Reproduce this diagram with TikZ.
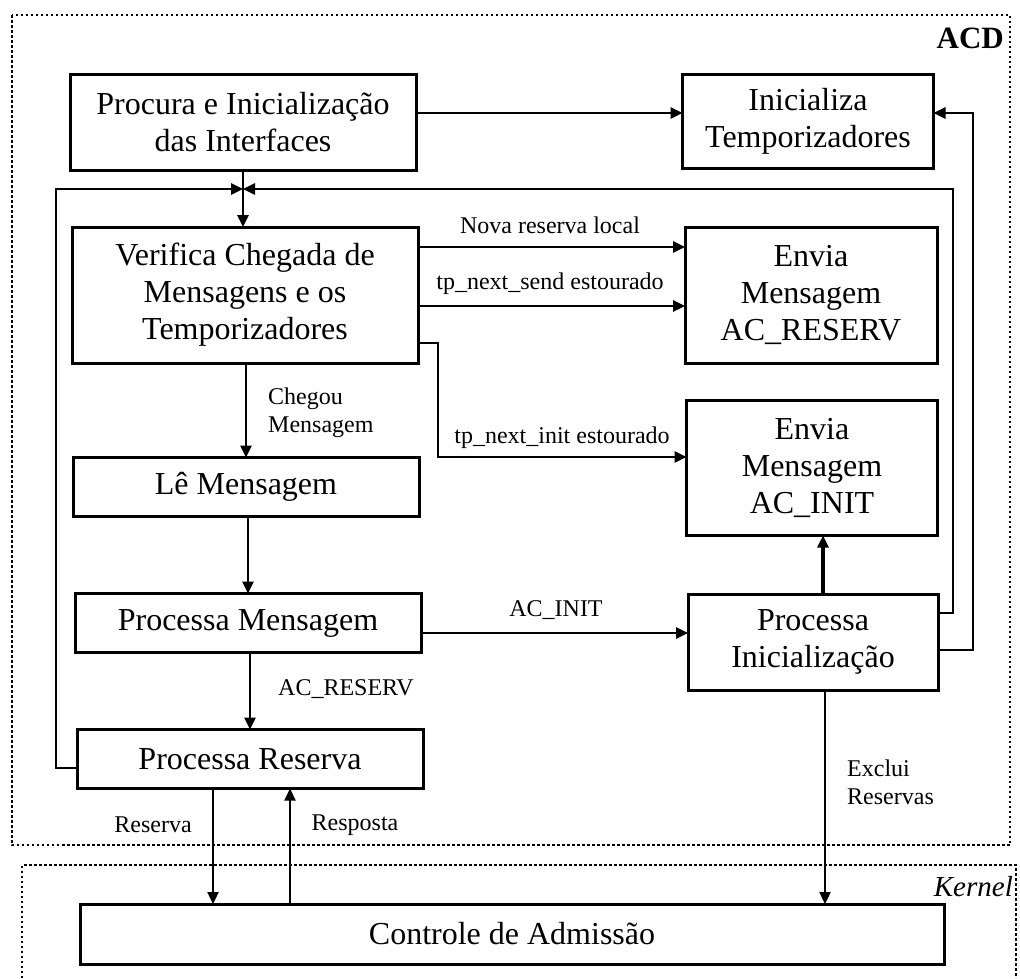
\documentclass[tikz,border=0pt]{standalone}
\usepackage{fontspec}
\setmainfont{Liberation Serif}
\usetikzlibrary{arrows.meta}
\begin{document}
\begin{tikzpicture}[x=1pt,y=-1pt,
  box/.style={draw, line width=3pt, inner sep=0pt, outer sep=0pt, align=center,
              font=\fontsize{32}{37}\selectfont},
  lbl/.style={font=\fontsize{24}{28}\selectfont, inner sep=0pt},
  conn/.style={line width=2.6pt, -{Triangle[length=12pt,width=11pt]}},
  link/.style={line width=2.6pt},
  zone/.style={line width=1.8pt, dash pattern=on 2.5pt off 2.5pt},
]
\useasboundingbox (0,0) rectangle (1020,978);

% process boxes, left column
\node[box, minimum width=346pt, minimum height=96pt]  (procura)  at (243,122) {Procura e Inicialização\\das Interfaces};
\node[box, minimum width=346pt, minimum height=136pt] (verifica) at (245,295) {Verifica Chegada de\\Mensagens e os\\Temporizadores};
\node[box, minimum width=346pt, minimum height=59pt]  (le)       at (246,487) {Lê Mensagem};
\node[box, minimum width=346pt, minimum height=59pt]  (procmsg)  at (248,623) {Processa Mensagem};
\node[box, minimum width=346pt, minimum height=59pt]  (procres)  at (250,759) {Processa Reserva};

% process boxes, right column
\node[box, minimum width=251pt, minimum height=94pt]  (initemp)   at (808,121) {Inicializa\\Temporizadores};
\node[box, minimum width=252pt, minimum height=136pt] (enviares)  at (811,295) {Envia\\Mensagem\\AC\_RESERV};
\node[box, minimum width=251pt, minimum height=135pt] (enviainit) at (812,468) {Envia\\Mensagem\\AC\_INIT};
\node[box, minimum width=250pt, minimum height=96pt]  (procinit)  at (813,642) {Processa\\Inicialização};

% kernel module
\node[box, minimum width=864pt, minimum height=60pt]  (controle)  at (512,934) {Controle de Admissão};

% domain frames and their names
\draw[zone] (12,15) rectangle (1010,845);
\draw[zone] (22,978) -- (22,865) -- (1016,865) -- (1016,978);
\node[font=\fontsize{31}{31}\selectfont\bfseries, anchor=east, inner sep=0pt] (acd) at (1004,38) {ACD};
\node[font=\fontsize{29}{29}\selectfont\itshape, anchor=east, inner sep=0pt] (kern) at (1013,887) {Kernel};

% start-up
\draw[conn] (procura.east |- 0,113) -- (initemp.west |- 0,113);
\coordinate (J) at (243,189);
\draw[link] (procura.south) -- (J);
\draw[conn] (J) -- (verifica.north -| J);

% main loop returns
\draw[conn] (procres.west |- 0,768) -- (56,768) -- (56,189) -- (J);
\draw[conn] (procinit.east |- 0,613) -- (953,613) -- (953,189) -- (J);
\draw[conn] (procinit.east |- 0,650) -- (973,650) -- (973,113) -- (initemp.east |- 0,113);

% dispatch from the check box
\draw[conn] (verifica.east |- 0,247) -- (enviares.west |- 0,247);
\node[lbl] (lnova) at (550,225) {Nova reserva local};
\draw[conn] (verifica.east |- 0,306) -- (enviares.west |- 0,306);
\node[lbl] (lsend) at (550,284) {tp\_next\_send estourado};
\draw[conn] (verifica.east |- 0,343) -- (438,343) -- (438,457) -- (enviainit.west |- 0,457);
\node[lbl] (linit) at (562,438) {tp\_next\_init estourado};

\draw[conn] (verifica.south -| 246,0) -- (le.north -| 246,0);
\node[lbl, anchor=west, align=left] (lcheg) at (268,413) {Chegou\\Mensagem};
\draw[conn] (le.south -| 248,0) -- (procmsg.north -| 248,0);

% message processing
\draw[conn] (procmsg.east |- 0,633) -- (procinit.west |- 0,633);
\node[lbl] (lacinit) at (556,610) {AC\_INIT};
\draw[conn] (procmsg.south -| 250,0) -- (procres.north -| 250,0);
\node[lbl, anchor=west] (lacres) at (278,689) {AC\_RESERV};
\draw[conn, line width=3.8pt] (procinit.north -| 823,0) -- (enviainit.south -| 823,0);

% exchanges with admission control
\draw[conn, line width=2.3pt] (procres.south -| 213,0) -- (controle.north -| 213,0);
\node[lbl] (lres) at (153,825) {Reserva};
\draw[conn, line width=2.3pt] (controle.north -| 290,0) -- (procres.south -| 290,0);
\node[lbl] (lresp) at (355,825) {Resposta};
\draw[conn, line width=2.3pt] (procinit.south -| 825,0) -- (controle.north -| 825,0);
\node[lbl, anchor=west, align=left] (lexcl) at (847,782) {Exclui\\Reservas};
\end{tikzpicture}
\end{document}
